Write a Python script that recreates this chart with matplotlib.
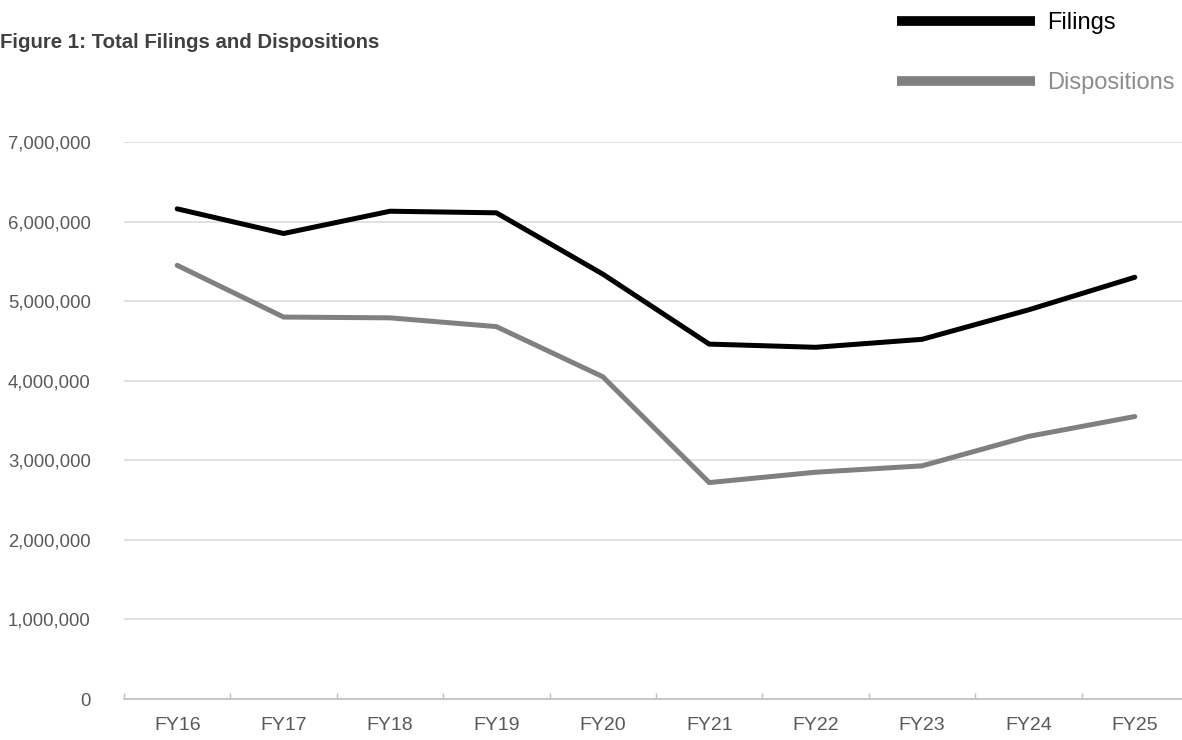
import matplotlib.pyplot as plt
from matplotlib.ticker import FuncFormatter

plt.rcParams['font.family'] = ['Liberation Sans', 'DejaVu Sans']

years = ["FY16", "FY17", "FY18", "FY19", "FY20", "FY21", "FY22", "FY23", "FY24", "FY25"]
filings = [6160000, 5850000, 6130000, 6110000, 5340000, 4460000, 4420000, 4520000, 4890000, 5300000]
dispositions = [5450000, 4800000, 4790000, 4680000, 4050000, 2720000, 2850000, 2930000, 3300000, 3550000]

W, H = 1182, 740
fig = plt.figure(figsize=(W / 100, H / 100), dpi=100)
# axes run a bit past the right edge, like the original export
ax = fig.add_axes([124 / W, 1 - 699 / H, 1064 / W, 557 / H])

x = range(len(years))
l1, = ax.plot(x, filings, color="black", lw=3.6, solid_capstyle="round", label="Filings")
l2, = ax.plot(x, dispositions, color="#808080", lw=3.6, solid_capstyle="round", label="Dispositions")

ax.set_xlim(-0.5, len(years) - 0.5)
ax.set_ylim(0, 7000000)
ax.set_yticks(range(0, 7000001, 1000000))
ax.yaxis.set_major_formatter(FuncFormatter(lambda v, p: f"{int(v):,}"))
ax.set_xticks(list(x))
ax.set_xticklabels(years)
ax.set_xticks([i - 0.5 for i in range(len(years) + 1)], minor=True)

ax.grid(axis="y", color="#d9d9d9", lw=1.1)
ax.set_axisbelow(True)
for s in ["top", "right", "left"]:
    ax.spines[s].set_visible(False)
ax.spines["bottom"].set_color("#bfbfbf")
ax.spines["bottom"].set_linewidth(1.2)

ax.tick_params(axis="y", length=0, pad=24, labelsize=13.3, labelcolor="#595959")
ax.tick_params(axis="x", which="major", length=0, pad=13, labelsize=14, labelcolor="#595959")
ax.tick_params(axis="x", which="minor", direction="in", length=4, color="#bfbfbf", width=1)

fig.text(0, 1 - 42 / H, "Figure 1: Total Filings and Dispositions", fontsize=14.7,
         fontweight="bold", color="#404040", va="center", ha="left")

leg = fig.legend(handles=[l1, l2], loc="upper left", bbox_to_anchor=(897 / W, 1 - 12 / H),
                 frameon=False, fontsize=17, handlelength=5.85, handletextpad=0.5,
                 labelspacing=1.6, borderpad=0, borderaxespad=0)
for h in leg.get_lines():
    h.set_linewidth(7)
    h.set_solid_capstyle("butt")
leg.get_texts()[0].set_color("black")
leg.get_texts()[1].set_color("#8c8c8c")

fig.savefig("out.png", dpi=100)
